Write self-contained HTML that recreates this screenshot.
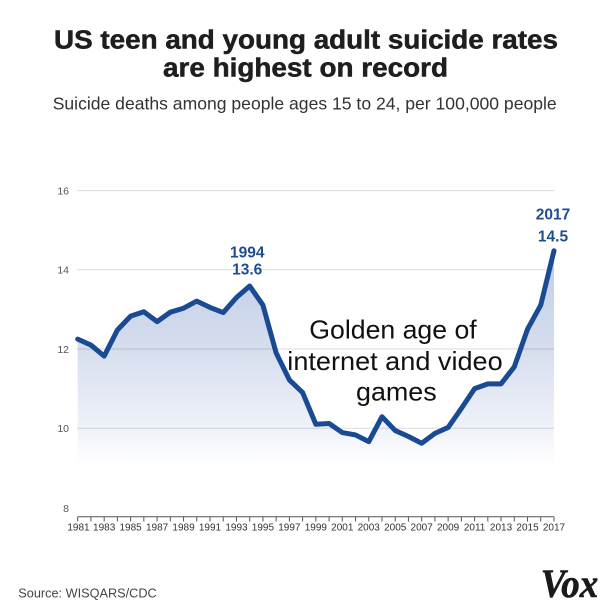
<!DOCTYPE html>
<html>
<head>
<meta charset="utf-8">
<style>
  html, body { margin: 0; padding: 0; background: #ffffff; }
  body { width: 613px; height: 613px; overflow: hidden; }
  svg { display: block; }
  text { font-family: "Liberation Sans", "DejaVu Sans", sans-serif; }
</style>
</head>
<body>
<svg width="613" height="613" viewBox="0 0 613 613" xmlns="http://www.w3.org/2000/svg">
  <defs>
    <linearGradient id="fillGrad" gradientUnits="userSpaceOnUse" x1="0" y1="250" x2="0" y2="465">
      <stop offset="0" stop-color="#c0cce6"/>
      <stop offset="0.45" stop-color="#d5ddee"/>
      <stop offset="0.82" stop-color="#eef1f8"/>
      <stop offset="1" stop-color="#ffffff"/>
    </linearGradient>
  </defs>

  <rect x="0" y="0" width="613" height="613" fill="#ffffff"/>

  <!-- Title -->
  <text x="54" y="48.3" font-size="25.5" font-weight="bold" fill="#1e1e1e" stroke="#1e1e1e" stroke-width="0.5" textLength="504" lengthAdjust="spacingAndGlyphs">US teen and young adult suicide rates</text>
  <text x="163" y="76.7" font-size="25.5" font-weight="bold" fill="#1e1e1e" stroke="#1e1e1e" stroke-width="0.5" textLength="285" lengthAdjust="spacingAndGlyphs">are highest on record</text>

  <!-- Subtitle -->
  <text x="52.7" y="109.3" font-size="17.8" fill="#333333" textLength="504" lengthAdjust="spacingAndGlyphs">Suicide deaths among people ages 15 to 24, per 100,000 people</text>

  <!-- Area fill -->
  <polygon fill="url(#fillGrad)" points="77.7,339.1 90.93,345.04 104.16,356.13 117.39,330.0 130.62,316.13 143.85,311.78 157.08,321.68 170.31,312.17 183.54,308.21 196.77,301.08 210.0,307.42 223.23,312.57 236.46,297.52 249.69,286.04 262.92,305.04 276.15,352.96 289.38,379.89 302.61,392.56 315.84,424.24 329.07,423.45 342.3,432.56 355.53,434.93 368.76,441.66 381.99,416.72 395.22,430.58 408.45,436.52 421.68,443.25 434.91,433.35 448.14,427.41 461.37,408.4 474.6,388.6 487.83,383.85 501.06,383.85 514.29,366.82 527.52,329.2 540.75,305.04 553.98,250.79 553.98,507 77.7,507"/>

  <!-- Gridlines -->
  <g stroke="rgba(0,0,0,0.14)" stroke-width="1">
    <line x1="77" y1="190.6" x2="554" y2="190.6"/>
    <line x1="77" y1="269.8" x2="554" y2="269.8"/>
    <line x1="77" y1="349" x2="554" y2="349"/>
    <line x1="77" y1="428.2" x2="554" y2="428.2"/>
  </g>

  <!-- Y labels -->
  <g font-size="10.5" fill="#555555" text-anchor="end">
    <text x="69" y="194.5">16</text>
    <text x="69" y="273.5">14</text>
    <text x="69" y="352.8">12</text>
    <text x="69" y="432">10</text>
    <text x="69" y="512">8</text>
  </g>

  <!-- X axis -->
  <line x1="77.7" y1="516.7" x2="554" y2="516.7" stroke="#555555" stroke-width="1"/>
  <g stroke="#555555" stroke-width="1">
    <line x1="77.7" y1="516.7" x2="77.7" y2="521.5"/>
    <line x1="90.93" y1="516.7" x2="90.93" y2="521.5"/>
    <line x1="104.16" y1="516.7" x2="104.16" y2="521.5"/>
    <line x1="117.39" y1="516.7" x2="117.39" y2="521.5"/>
    <line x1="130.62" y1="516.7" x2="130.62" y2="521.5"/>
    <line x1="143.85" y1="516.7" x2="143.85" y2="521.5"/>
    <line x1="157.08" y1="516.7" x2="157.08" y2="521.5"/>
    <line x1="170.31" y1="516.7" x2="170.31" y2="521.5"/>
    <line x1="183.54" y1="516.7" x2="183.54" y2="521.5"/>
    <line x1="196.77" y1="516.7" x2="196.77" y2="521.5"/>
    <line x1="210.0" y1="516.7" x2="210.0" y2="521.5"/>
    <line x1="223.23" y1="516.7" x2="223.23" y2="521.5"/>
    <line x1="236.46" y1="516.7" x2="236.46" y2="521.5"/>
    <line x1="249.69" y1="516.7" x2="249.69" y2="521.5"/>
    <line x1="262.92" y1="516.7" x2="262.92" y2="521.5"/>
    <line x1="276.15" y1="516.7" x2="276.15" y2="521.5"/>
    <line x1="289.38" y1="516.7" x2="289.38" y2="521.5"/>
    <line x1="302.61" y1="516.7" x2="302.61" y2="521.5"/>
    <line x1="315.84" y1="516.7" x2="315.84" y2="521.5"/>
    <line x1="329.07" y1="516.7" x2="329.07" y2="521.5"/>
    <line x1="342.3" y1="516.7" x2="342.3" y2="521.5"/>
    <line x1="355.53" y1="516.7" x2="355.53" y2="521.5"/>
    <line x1="368.76" y1="516.7" x2="368.76" y2="521.5"/>
    <line x1="381.99" y1="516.7" x2="381.99" y2="521.5"/>
    <line x1="395.22" y1="516.7" x2="395.22" y2="521.5"/>
    <line x1="408.45" y1="516.7" x2="408.45" y2="521.5"/>
    <line x1="421.68" y1="516.7" x2="421.68" y2="521.5"/>
    <line x1="434.91" y1="516.7" x2="434.91" y2="521.5"/>
    <line x1="448.14" y1="516.7" x2="448.14" y2="521.5"/>
    <line x1="461.37" y1="516.7" x2="461.37" y2="521.5"/>
    <line x1="474.6" y1="516.7" x2="474.6" y2="521.5"/>
    <line x1="487.83" y1="516.7" x2="487.83" y2="521.5"/>
    <line x1="501.06" y1="516.7" x2="501.06" y2="521.5"/>
    <line x1="514.29" y1="516.7" x2="514.29" y2="521.5"/>
    <line x1="527.52" y1="516.7" x2="527.52" y2="521.5"/>
    <line x1="540.75" y1="516.7" x2="540.75" y2="521.5"/>
    <line x1="553.98" y1="516.7" x2="553.98" y2="521.5"/>
  </g>
  <g font-size="10" fill="#333333" text-anchor="middle">
    <text x="78.5" y="530.7">1981</text>
    <text x="104.16" y="530.7">1983</text>
    <text x="130.62" y="530.7">1985</text>
    <text x="157.08" y="530.7">1987</text>
    <text x="183.54" y="530.7">1989</text>
    <text x="210.0" y="530.7">1991</text>
    <text x="236.46" y="530.7">1993</text>
    <text x="262.92" y="530.7">1995</text>
    <text x="289.38" y="530.7">1997</text>
    <text x="315.84" y="530.7">1999</text>
    <text x="342.3" y="530.7">2001</text>
    <text x="368.76" y="530.7">2003</text>
    <text x="395.22" y="530.7">2005</text>
    <text x="421.68" y="530.7">2007</text>
    <text x="448.14" y="530.7">2009</text>
    <text x="474.6" y="530.7">2011</text>
    <text x="501.06" y="530.7">2013</text>
    <text x="527.52" y="530.7">2015</text>
    <text x="553.98" y="530.7">2017</text>
  </g>

  <!-- Data line -->
  <polyline fill="none" stroke="#1a4a92" stroke-width="5" stroke-linejoin="round" stroke-linecap="round" points="77.7,339.1 90.93,345.04 104.16,356.13 117.39,330.0 130.62,316.13 143.85,311.78 157.08,321.68 170.31,312.17 183.54,308.21 196.77,301.08 210.0,307.42 223.23,312.57 236.46,297.52 249.69,286.04 262.92,305.04 276.15,352.96 289.38,379.89 302.61,392.56 315.84,424.24 329.07,423.45 342.3,432.56 355.53,434.93 368.76,441.66 381.99,416.72 395.22,430.58 408.45,436.52 421.68,443.25 434.91,433.35 448.14,427.41 461.37,408.4 474.6,388.6 487.83,383.85 501.06,383.85 514.29,366.82 527.52,329.2 540.75,305.04 553.98,250.79"/>

  <!-- Annotations -->
  <g font-size="15.5" font-weight="bold" fill="#1d4e93" text-anchor="middle">
    <text x="247.2" y="257.3">1994</text>
    <text x="247.2" y="274.3">13.6</text>
    <text x="553" y="219.3">2017</text>
    <text x="553" y="241.7">14.5</text>
  </g>

  <!-- Meme annotation -->
  <g font-size="26" fill="#111111">
    <text x="309.3" y="338.3" textLength="167.4" lengthAdjust="spacingAndGlyphs">Golden age of</text>
    <text x="287.3" y="370" textLength="215.4" lengthAdjust="spacingAndGlyphs">internet and video</text>
    <text x="356" y="400.5" textLength="80.7" lengthAdjust="spacingAndGlyphs">games</text>
  </g>

  <!-- Source -->
  <text x="18.3" y="597.7" font-size="12.5" fill="#444444" textLength="138.4" lengthAdjust="spacingAndGlyphs">Source: WISQARS/CDC</text>

  <!-- Vox logo -->
  <text x="540.7" y="597" style="font-family: 'Liberation Serif', 'DejaVu Serif', serif; font-size: 40px; font-weight: bold; font-style: italic;" fill="#1a1a1a" stroke="#1a1a1a" stroke-width="0.6" textLength="57.6" lengthAdjust="spacingAndGlyphs">Vox</text>
</svg>
</body>
</html>
